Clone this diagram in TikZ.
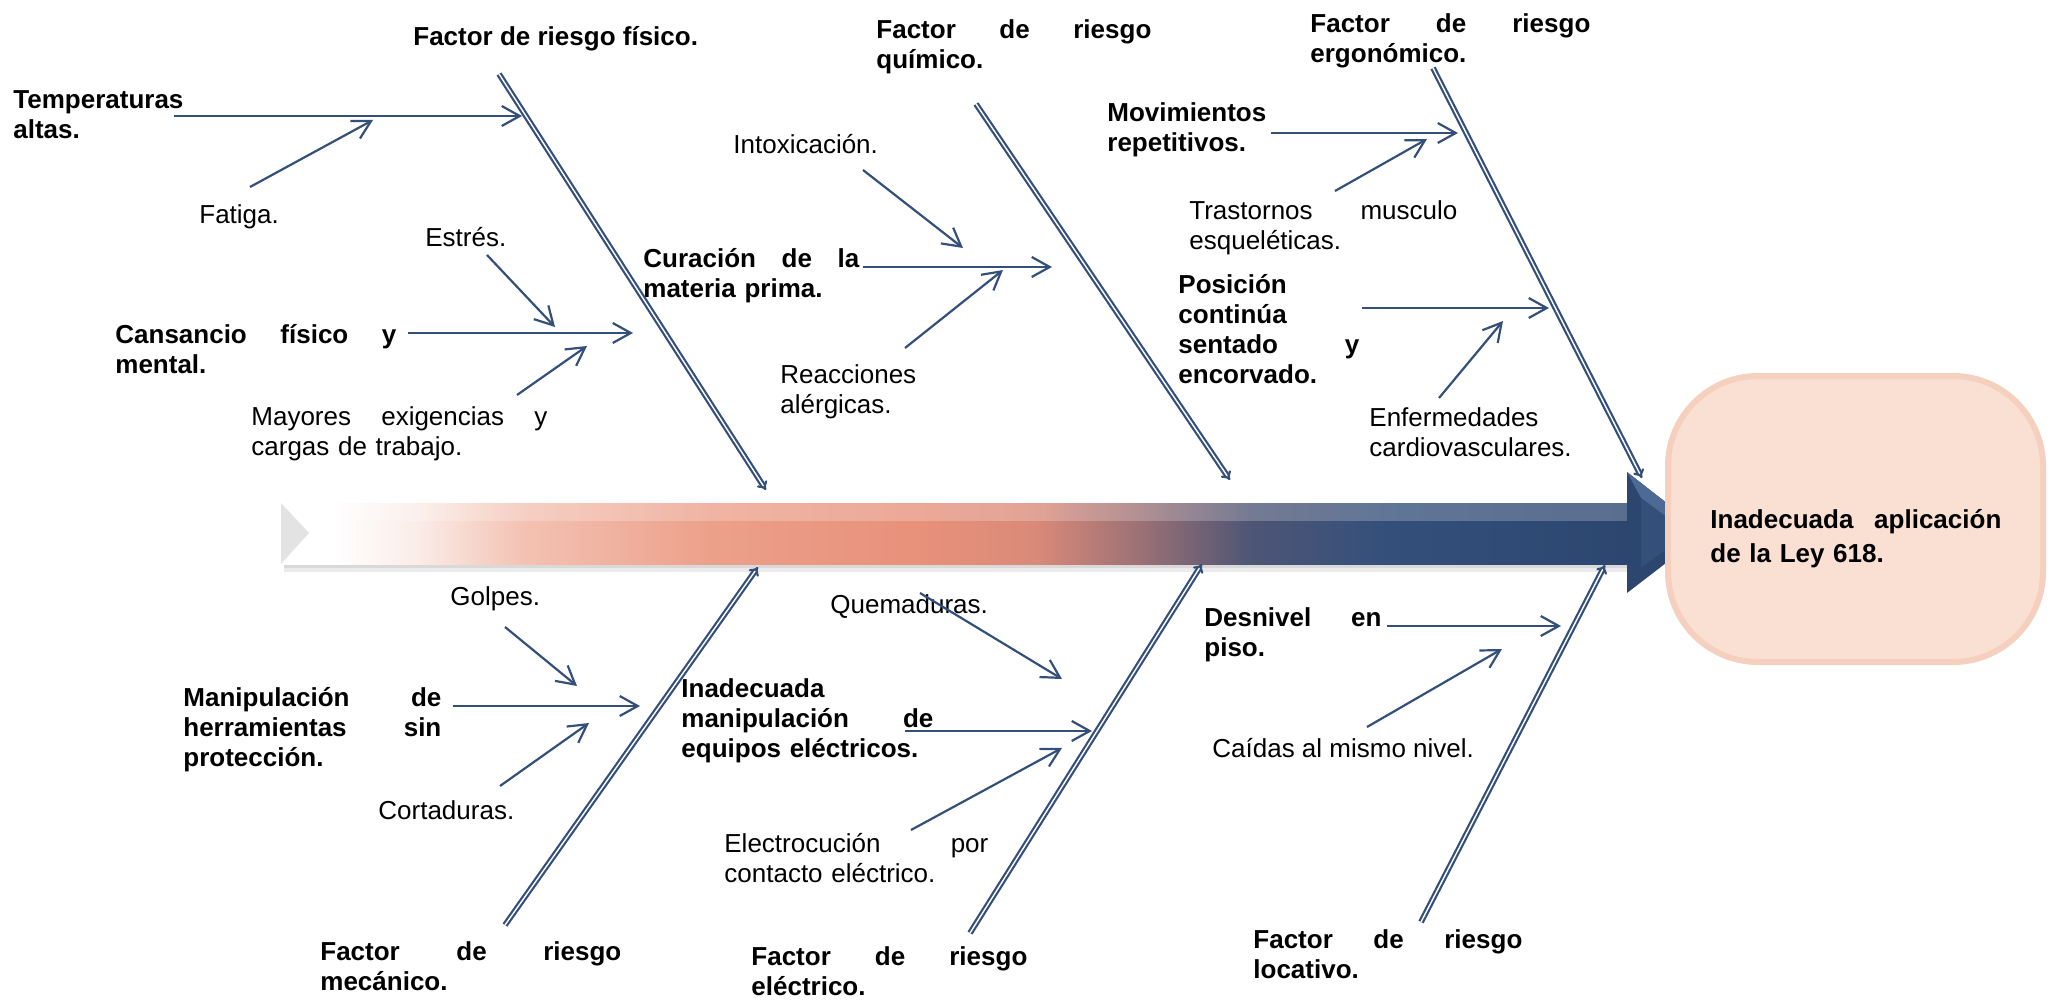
\documentclass[tikz,border=0pt]{standalone}
\usepackage{fontspec}
\setmainfont{Liberation Sans}
\usetikzlibrary{arrows.meta}

\definecolor{azul}{HTML}{34507A}
\definecolor{azulosc}{HTML}{2C4670}
\definecolor{azulcla}{HTML}{4D6A96}
\definecolor{blancorosa}{HTML}{FBEDE8}
\definecolor{salmonA}{HTML}{F3C2B3}
\definecolor{salmonB}{HTML}{ECA08A}
\definecolor{salmonC}{HTML}{E8917B}
\definecolor{salmonD}{HTML}{DA8A79}
\definecolor{malva}{HTML}{9A7075}
\definecolor{pizarra}{HTML}{4E5575}
\definecolor{durazno}{HTML}{FADFD3}
\definecolor{duraznoborde}{HTML}{F6D0BF}

\pgfdeclarehorizontalshading{espina}{100bp}{color(0bp)=(white); color(25bp)=(white); color(27bp)=(white); color(30bp)=(blancorosa); color(34bp)=(salmonA); color(41bp)=(salmonB); color(48.6bp)=(salmonC); color(53bp)=(salmonD); color(57bp)=(malva); color(61bp)=(pizarra); color(66bp)=(azul); color(75bp)=(azulosc); color(100bp)=(azulosc)}

\tikzset{
  causa/.style={font=\fontsize{13}{15}\selectfont\bfseries, anchor=north west,
    inner sep=0pt, align=left, execute at begin node=\strut},
  subcausa/.style={causa, font=\fontsize{13}{15}\selectfont},
  flecha/.style={draw=azul, line width=1.1pt, -{Straight Barb[length=9pt,width=10pt]}},
  hueso/.style={draw=azul, line width=1.1pt, double=white, double distance=0.7pt, -{Implies[scale=1.5]}},
  caja/.style={draw=duraznoborde, line width=3pt, fill=durazno, rounded corners=45pt,
    minimum width=187.5pt, minimum height=143pt, inner sep=0pt}
}

\begin{document}
\begin{tikzpicture}[x=0.5pt, y=-0.5pt]
\useasboundingbox (0,0) rectangle (2051,1000);

% espina central
\fill[black, opacity=0.08] (284,564) rectangle (1627,572);
\fill[black, opacity=0.08] (284,564) rectangle (1627,568);
\shade[shading=espina] (281,503) rectangle (1627,564);
\fill[white, opacity=0.22] (281,503) rectangle (1627,521);
\fill[gray!22] (281,503) -- (309,533) -- (281,564) -- cycle;
\fill[azulosc] (1627,472) -- (1705,533) -- (1627,593) -- cycle;
\fill[azulcla] (1627,472) -- (1705,533) -- (1688,533) -- (1641,498) -- cycle;
\fill[azul] (1641,498) -- (1688,533) -- (1641,568) -- cycle;

% efecto
\node[caja] (efecto) at (1855.5,519) {};
\node[causa, text width=145.5pt, font=\fontsize{13}{17}\selectfont\bfseries] (efectoTxt)
  at (1710,504) {Inadecuada\hfill aplicación\\de la Ley 618.};

% factores
\node[causa] (ffis) at (413,24) {Factor de riesgo físico.};
\node[causa, text width=137.5pt] (fqui) at (876,17) {Factor\hfill de\hfill riesgo\\químico.};
\node[causa, text width=140pt] (ferg) at (1310,11) {Factor\hfill de\hfill riesgo\\ergonómico.};
\node[causa, text width=150.5pt] (fmec) at (320,939) {Factor\hfill de\hfill riesgo\\mecánico.};
\node[causa, text width=138pt] (felec) at (751,944) {Factor\hfill de\hfill riesgo\\eléctrico.};
\node[causa, text width=134.5pt] (floc) at (1253,927) {Factor\hfill de\hfill riesgo\\locativo.};

% causas
\node[causa] (temp) at (13,90) {Temperaturas\\altas.};
\node[causa, text width=140.5pt] (cans) at (115,322) {Cansancio\hfill físico\hfill y\\mental.};
\node[causa, text width=108pt] (cura) at (643,246) {Curación\hfill de\hfill la\\materia prima.};
\node[causa] (movi) at (1107,102) {Movimientos\\repetitivos.};
\node[causa, text width=90.5pt] (posi) at (1178,272) {Posición\\continúa\\sentado\hfill y\\encorvado.};
\node[causa, text width=129pt] (mani) at (183,685) {Manipulación\hfill de\\herramientas\hfill sin\\protección.};
\node[causa, text width=126pt] (inad) at (681,676) {Inadecuada\\manipulación\hfill de\\equipos eléctricos.};
\node[causa, text width=88.5pt] (desn) at (1204,605) {Desnivel\hfill en\\piso.};

% subcausas
\node[subcausa] (fati) at (199,202) {Fatiga.};
\node[subcausa] (estr) at (425,225) {Estrés.};
\node[subcausa, text width=148pt] (mayo) at (251,404) {Mayores\hfill exigencias\hfill y\\cargas de trabajo.};
\node[subcausa] (into) at (733,132) {Intoxicación.};
\node[subcausa] (reac) at (780,364) {Reacciones\\alérgicas.};
\node[subcausa, text width=134pt] (tras) at (1189,198) {Trastornos\hfill musculo\\esqueléticas.};
\node[subcausa] (enfe) at (1369,407) {Enfermedades\\cardiovasculares.};
\node[subcausa] (golp) at (450,584) {Golpes.};
\node[subcausa] (cort) at (378,798) {Cortaduras.};
\node[subcausa] (quem) at (830,592) {Quemaduras.};
\node[subcausa, text width=132pt] (elec) at (724,831) {Electrocución\hfill por\\contacto eléctrico.};
\node[subcausa] (caid) at (1212,736) {Caídas al mismo nivel.};

% espinas de cada factor
\coordinate (fisA) at (499,74);   \coordinate (fisB) at (766,490);
\coordinate (quiA) at (976,104);  \coordinate (quiB) at (1230,480);
\coordinate (ergA) at (1433,68);  \coordinate (ergB) at (1642,478);
\coordinate (mecA) at (505,925);  \coordinate (mecB) at (758,567);
\coordinate (eleA) at (970,933);  \coordinate (eleB) at (1202,564);
\coordinate (locA) at (1421,922); \coordinate (locB) at (1605,565);
\draw[hueso] (fisA) -- (fisB);
\draw[hueso] (quiA) -- (quiB);
\draw[hueso] (ergA) -- (ergB);
\draw[hueso] (mecA) -- (mecB);
\draw[hueso] (eleA) -- (eleB);
\draw[hueso] (locA) -- (locB);

% flechas
\coordinate (temp1) at (174,116);  \coordinate (temp2) at (522,116);
\coordinate (fati1) at (250,187);  \coordinate (fati2) at (373,120);
\coordinate (estr1) at (487,255);  \coordinate (estr2) at (555,327);
\coordinate (cans1) at (408,333);  \coordinate (cans2) at (633,333);
\coordinate (mayo1) at (517,395);  \coordinate (mayo2) at (587,346);
\coordinate (into1) at (863,170);  \coordinate (into2) at (963,248);
\coordinate (cura1) at (863,267);  \coordinate (cura2) at (1052,267);
\coordinate (reac1) at (905,348);  \coordinate (reac2) at (1003,270);
\coordinate (movi1) at (1271,133); \coordinate (movi2) at (1458,133);
\coordinate (tras1) at (1335,191); \coordinate (tras2) at (1427,139);
\coordinate (posi1) at (1362,308); \coordinate (posi2) at (1549,308);
\coordinate (enfe1) at (1439,398); \coordinate (enfe2) at (1503,321);
\coordinate (golp1) at (505,627);  \coordinate (golp2) at (577,686);
\coordinate (mani1) at (453,706);  \coordinate (mani2) at (640,706);
\coordinate (cort1) at (500,786);  \coordinate (cort2) at (589,723);
\coordinate (quem1) at (920,593);  \coordinate (quem2) at (1062,679);
\coordinate (inad1) at (905,731);  \coordinate (inad2) at (1092,731);
\coordinate (elec1) at (911,830);  \coordinate (elec2) at (1062,748);
\coordinate (desn1) at (1387,626); \coordinate (desn2) at (1561,626);
\coordinate (caid1) at (1367,727); \coordinate (caid2) at (1502,649);
\foreach \c in {temp,fati,estr,cans,mayo,into,cura,reac,movi,tras,posi,enfe,golp,mani,cort,quem,inad,elec,desn,caid}
  \draw[flecha] (\c1) -- (\c2);

\end{tikzpicture}
\end{document}
